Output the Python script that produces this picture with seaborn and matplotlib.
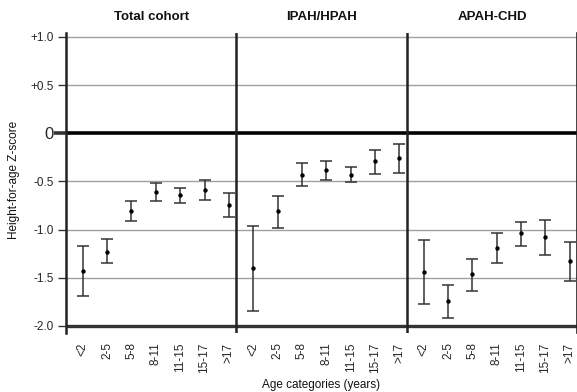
import matplotlib
matplotlib.use("Agg")
import matplotlib.pyplot as plt
import numpy as np
import pandas as pd
import seaborn as sns

# Cohort panels and age bands
groups = ["Total cohort", "IPAH/HPAH", "APAH-CHD"]
age_labels = ["<2", "2-5", "5-8", "8-11", "11-15", "15-17", ">17"]

# Mean height-for-age Z-score with 95% CI per age band
total_mean = [-1.43, -1.23, -0.81, -0.61, -0.64, -0.59, -0.74]
total_lo = [-1.69, -1.35, -0.91, -0.70, -0.72, -0.69, -0.87]
total_hi = [-1.17, -1.10, -0.70, -0.52, -0.57, -0.48, -0.62]

ipah_mean = [-1.40, -0.81, -0.43, -0.38, -0.43, -0.29, -0.26]
ipah_lo = [-1.84, -0.98, -0.55, -0.48, -0.51, -0.42, -0.41]
ipah_hi = [-0.96, -0.65, -0.31, -0.29, -0.35, -0.17, -0.11]

chd_mean = [-1.44, -1.74, -1.46, -1.19, -1.04, -1.08, -1.33]
chd_lo = [-1.77, -1.92, -1.64, -1.35, -1.17, -1.26, -1.53]
chd_hi = [-1.11, -1.57, -1.30, -1.03, -0.92, -0.90, -1.13]

y_ticks = [1.0, 0.5, 0.0, -0.5, -1.0, -1.5, -2.0]
y_tick_labels = ["+1.0", "+0.5", "0", "-0.5", "-1.0", "-1.5", "-2.0"]

series = [(total_mean, total_lo, total_hi),
          (ipah_mean, ipah_lo, ipah_hi),
          (chd_mean, chd_lo, chd_hi)]

rows = []
for g, (m, lo, hi) in zip(groups, series):
    for i, age in enumerate(age_labels):
        rows.append({"group": g, "age": age, "mean": m[i], "lo": lo[i], "hi": hi[i],
                     "pos": groups.index(g) * len(age_labels) + i})
df = pd.DataFrame(rows)

sns.set_theme(style="white")
plt.rcParams["font.family"] = ["Liberation Sans", "DejaVu Sans"]

fig = plt.figure(figsize=(5.77, 3.92), dpi=100)
ax = fig.add_axes([66 / 577, 1 - 332.7 / 392, 510.5 / 577, (332.7 - 33.1) / 392])

n = len(age_labels)
ax.set_xlim(-0.69, 3 * n - 0.72)
ax.set_ylim(-2.07, 1.04)

# horizontal reference lines
for t in y_ticks:
    if t == 0.0:
        ax.axhline(t, color="black", lw=2.6, zorder=2)
    elif t == -2.0:
        ax.axhline(t, color="#333333", lw=2.4, zorder=2)
    else:
        ax.axhline(t, color="#a0a0a0", lw=1.0, zorder=1)

# panel dividers
for k in (1, 2):
    ax.axvline(k * n - 0.69, color="#222222", lw=1.8, zorder=2)

# confidence intervals and means
ax.errorbar(df["pos"], df["mean"],
            yerr=[df["mean"] - df["lo"], df["hi"] - df["mean"]],
            fmt="none", ecolor="#333333", elinewidth=1.1, capsize=4.0,
            capthick=1.1, zorder=3)
sns.scatterplot(data=df, x="pos", y="mean", ax=ax, color="black", s=10,
                edgecolor="black", linewidth=0, zorder=4, legend=False)

ax.set_xticks(df["pos"])
ax.set_xticklabels(df["age"], rotation=90, fontsize=8.5)
ax.set_yticks(y_ticks)
ax.set_yticklabels(y_tick_labels, fontsize=8.5)
ax.tick_params(axis="x", length=0, pad=7)
ax.tick_params(axis="y", length=6, width=1.0, color="#333333", left=True, pad=3)
for tick, lab in zip(ax.yaxis.get_major_ticks(), y_tick_labels):
    if lab == "0":
        tick.tick1line.set_markeredgewidth(2.6)
        tick.tick1line.set_markersize(9)
        tick.tick1line.set_color("black")
        tick.label1.set_fontsize(12)
ax.set_xlabel("")
ax.set_ylabel("")

for side in ("top",):
    ax.spines[side].set_visible(False)
ax.spines["bottom"].set_visible(False)
ax.spines["left"].set_color("#222222")
ax.spines["left"].set_linewidth(1.8)
ax.spines["right"].set_color("#222222")
ax.spines["right"].set_linewidth(1.2)

# panel titles
for k, g in enumerate(groups):
    ax.text(k * n + (n - 1) / 2 - 0.19, 1.055, g, transform=ax.get_xaxis_transform(),
            ha="center", va="center", fontsize=9.5, fontweight="bold", color="#111111")

fig.text(14 / 577, 1 - 180 / 392, "Height-for-age Z-score", rotation=90,
         ha="center", va="center", fontsize=8.5, color="#111111")
fig.text(321 / 577, 1 - 385 / 392, "Age categories (years)",
         ha="center", va="center", fontsize=8.5, color="#111111")

fig.savefig("out.png", dpi=100)
